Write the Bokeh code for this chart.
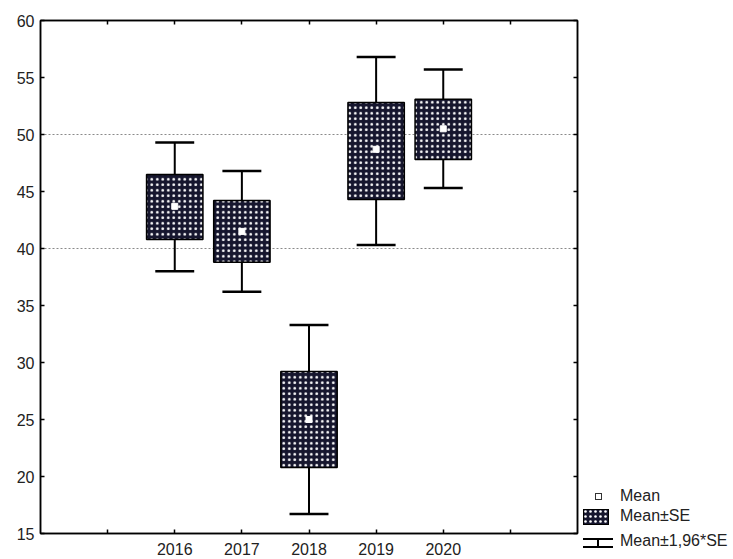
from bokeh.plotting import figure
from bokeh.models import (ColumnDataSource, Range1d, LinearAxis, FixedTicker, Div)
from bokeh.layouts import row
from bokeh.embed import file_html
from bokeh.resources import INLINE

# ---- data ----
years = ["2016", "2017", "2018", "2019", "2020"]
x_pos = [2, 3, 4, 5, 6]
mean = [43.7, 41.5, 25.0, 48.7, 50.5]
se_hi = [46.5, 44.2, 29.2, 52.8, 53.1]
se_lo = [40.8, 38.8, 20.8, 44.3, 47.8]
ci_hi = [49.3, 46.8, 33.3, 56.8, 55.7]
ci_lo = [38.0, 36.2, 16.7, 40.3, 45.3]
x_ticks = [1, 2, 3, 4, 5, 6, 7]
y_ticks = [15, 20, 25, 30, 35, 40, 45, 50, 55, 60]
grid_lines = [40, 50]
legend_labels = ["Mean", "Mean\u00b1SE", "Mean\u00b11,96*SE"]

BOX_HALF = 0.42
CAP_HALF = 0.29
FONT = "Liberation Sans"
DARK = "#16162e"
H = 557

src = ColumnDataSource(dict(
    x=x_pos, mean=mean, se_hi=se_hi, se_lo=se_lo, ci_hi=ci_hi, ci_lo=ci_lo,
    left=[v - BOX_HALF for v in x_pos], right=[v + BOX_HALF for v in x_pos],
    cap_l=[v - CAP_HALF for v in x_pos], cap_r=[v + CAP_HALF for v in x_pos],
))

p = figure(width=581, height=H, output_backend="svg", toolbar_location=None,
           x_range=Range1d(0, 8), y_range=Range1d(15, 60),
           min_border_left=40, min_border_top=20, min_border_right=4,
           min_border_bottom=24, x_axis_location=None, y_axis_location=None)
p.background_fill_color = "white"
p.border_fill_color = "white"
p.outline_line_color = "black"
p.outline_line_width = 1.5

def style_axis(ax, labels=True):
    ax.axis_line_color = "black"
    ax.axis_line_width = 1.5
    ax.major_tick_in = 4
    ax.major_tick_out = 0
    ax.major_tick_line_color = "black"
    ax.major_tick_line_width = 1.5
    ax.minor_tick_line_color = None
    ax.major_label_text_font = FONT
    ax.major_label_text_font_size = "16px"
    ax.major_label_text_color = "#222222"
    if not labels:
        ax.major_label_text_font_size = "0px"
        ax.major_label_text_color = None
        ax.major_label_standoff = 0

xlab = {1: "", 7: ""}
for xv, y in zip(x_pos, years):
    xlab[xv] = y

bottom = LinearAxis(ticker=FixedTicker(ticks=x_ticks), major_label_overrides=xlab)
style_axis(bottom)
bottom.major_label_standoff = 9
p.add_layout(bottom, "below")

left = LinearAxis(ticker=FixedTicker(ticks=y_ticks))
style_axis(left)
left.major_label_standoff = 6
p.add_layout(left, "left")

top = LinearAxis(ticker=FixedTicker(ticks=x_ticks))
style_axis(top, labels=False)
p.add_layout(top, "above")

right = LinearAxis(ticker=FixedTicker(ticks=y_ticks))
style_axis(right, labels=False)
p.add_layout(right, "right")

p.xgrid.visible = False
p.ygrid.ticker = FixedTicker(ticks=grid_lines)
p.ygrid.grid_line_color = "#8a8a8a"
p.ygrid.grid_line_dash = "2 2"
p.ygrid.grid_line_width = 1

# whiskers
p.segment(x0="x", y0="ci_lo", x1="x", y1="ci_hi", source=src,
          line_color="black", line_width=2)
p.segment(x0="cap_l", y0="ci_hi", x1="cap_r", y1="ci_hi", source=src,
          line_color="black", line_width=2.5)
p.segment(x0="cap_l", y0="ci_lo", x1="cap_r", y1="ci_lo", source=src,
          line_color="black", line_width=2.5)
# SE boxes
p.quad(left="left", right="right", bottom="se_lo", top="se_hi", source=src,
       fill_color=DARK, line_color="black", line_width=1.5,
       hatch_pattern="dot", hatch_color="white", hatch_scale=5.5,
       hatch_weight=2)
# means
p.scatter(x="x", y="mean", source=src, marker="square", size=6,
          fill_color="white", line_color="white")

# ---- legend panel (HTML + inline SVG symbols) ----
dots = "".join(
    f'<circle cx="{4.5 + 5 * i}" cy="{511.5 + 5 * j}" r="1.3" fill="white"/>'
    for i in range(5) for j in range(3))
svg = (
    f'<svg width="152" height="{H}" style="position:absolute;left:0;top:0">'
    '<rect x="14.5" y="493.5" width="6" height="6" fill="white" stroke="#333" stroke-width="1"/>'
    f'<rect x="2.5" y="509.5" width="25" height="15" fill="{DARK}" stroke="black" stroke-width="1"/>'
    + dots +
    '<line x1="2" y1="539" x2="32" y2="539" stroke="black" stroke-width="2"/>'
    '<line x1="2" y1="547" x2="32" y2="547" stroke="black" stroke-width="2"/>'
    '<line x1="17" y1="539" x2="17" y2="547" stroke="black" stroke-width="2"/>'
    '</svg>')
centers = [496, 516, 541]
spans = "".join(
    f'<span style="position:absolute;left:39px;top:{c - 9}px;line-height:18px;'
    f'white-space:nowrap">{t}</span>'
    for t, c in zip(legend_labels, centers))
html = (f'<div style="position:relative;width:152px;height:{H}px;'
        f'font-family:\'{FONT}\';font-size:16px;color:#222222">' + svg + spans + '</div>')
leg = Div(text=html, width=152, height=H, margin=(0, 0, 0, 0))

layout = row(p, leg, spacing=0)
open("out.html", "w").write(file_html(layout, INLINE))
